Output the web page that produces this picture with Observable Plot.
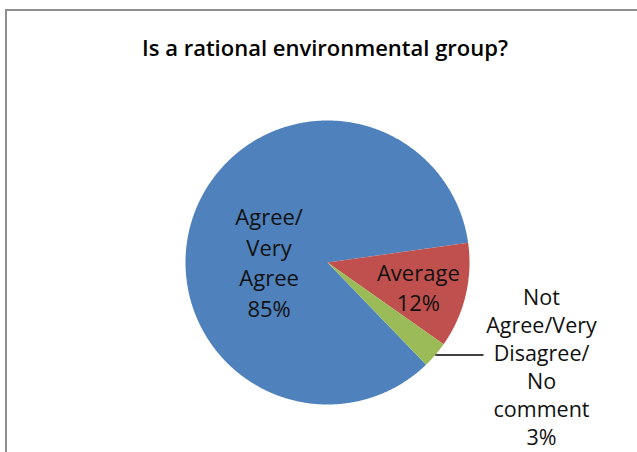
<!DOCTYPE html>
<html><head><meta charset="utf-8">
<script src="https://cdn.jsdelivr.net/npm/d3@7"></script>
<script src="https://cdn.jsdelivr.net/npm/@observablehq/plot@0.6"></script>
<style>
body{margin:0;background:#fff;}
#wrap{position:relative;width:637px;height:452px;overflow:hidden;font-family:"Open Sans",sans-serif;}
#frame{position:absolute;left:5px;top:9px;right:-10px;bottom:-10px;border-left:2.5px solid #8e8e8e;border-top:2.5px solid #8e8e8e;}
#wrap svg{position:absolute;left:0;top:0;}
</style></head><body><div id="wrap"><div id="frame"></div></div>
<script>
// ---- data ----
const title = "Is a rational environmental group?";
const categories = ["Agree/\nVery\nAgree", "Average", "Not\nAgree/Very\nDisagree/\nNo\ncomment"];
const values = [85, 12, 3];
const colors = ["#4F81BD", "#C0504D", "#9BBB59"];

// ---- layout ----
const W = 637, H = 452;
const cx = 327, cy = 262, R = 142;
const startDeg = 136;
const labelLayout = [
  {inside: true, rf: 0.42, dx: -2, dy: 18},
  {inside: true, rf: 0.68, dx: -3, dy: 1},
  {inside: false, lineEnd: 483, textOffset: 58, dy: 11}
];

const data = categories.map((c, i) => ({key: c.replace(/\n/g, " "), label: c + "\n" + values[i] + "%", value: values[i]}));
const a0 = startDeg * Math.PI / 180;
const arcs = d3.pie().sort(null).value(d => d.value).startAngle(a0).endAngle(a0 + 2 * Math.PI)(data);
const pt = (a, r) => [cx + r * Math.sin(a), cy - r * Math.cos(a)];

const poly = [];
arcs.forEach(arc => {
  const k = arc.data.key;
  poly.push({k, x: cx, y: cy});
  const n = Math.max(2, Math.ceil((arc.endAngle - arc.startAngle) / (0.4 * Math.PI / 180)));
  for (let j = 0; j <= n; j++) {
    const a = arc.startAngle + (arc.endAngle - arc.startAngle) * j / n;
    const [x, y] = pt(a, R);
    poly.push({k, x, y});
  }
  poly.push({k, x: cx, y: cy});
});

const inLabels = [], outLabels = [], leaders = [];
arcs.forEach((arc, i) => {
  const L = labelLayout[i];
  const mid = (arc.startAngle + arc.endAngle) / 2;
  if (L.inside) {
    const [x, y] = pt(mid, R * L.rf);
    inLabels.push({x: x + L.dx, y: y + L.dy, t: arc.data.label});
  } else {
    const [x, y] = pt(mid, R);
    leaders.push({x1: x, y1: y, x2: L.lineEnd, y2: y});
    outLabels.push({x: L.lineEnd + L.textOffset, y: y + L.dy, t: arc.data.label});
  }
});

const chart = Plot.plot({
  width: W, height: H,
  margin: 0,
  x: {domain: [0, W], range: [0, W], axis: null},
  y: {domain: [0, H], range: [0, H], axis: null},
  color: {domain: data.map(d => d.key), range: colors},
  style: {background: "transparent", fontFamily: "'Open Sans', sans-serif"},
  marks: [
    Plot.line(poly, {x: "x", y: "y", z: "k", fill: "k", stroke: "none", curve: "linear"}),
    Plot.link(leaders, {x1: "x1", y1: "y1", x2: "x2", y2: "y2", stroke: "#000", strokeWidth: 1.5}),
    Plot.text(inLabels, {x: "x", y: "y", text: "t", fontSize: 22, lineHeight: 1.4, lineAnchor: "middle", fill: "#111"}),
    Plot.text(outLabels, {x: "x", y: "y", text: "t", fontSize: 21.5, lineHeight: 1.31, lineAnchor: "middle", fill: "#111"}),
    Plot.text([title], {frameAnchor: "top", text: d => d, dx: 6, dy: 48, lineAnchor: "middle", fontSize: 22, fontWeight: 600, fill: "#000"})
  ]
});
document.getElementById("wrap").appendChild(chart);
</script></body></html>
